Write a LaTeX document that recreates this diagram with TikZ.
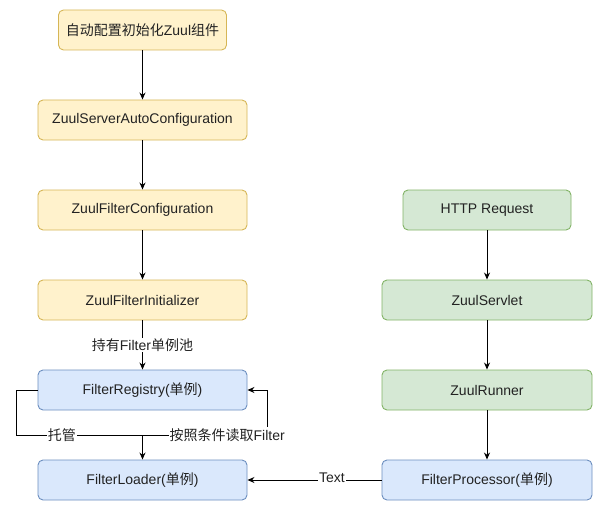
\documentclass[tikz,border=0pt]{standalone}
\usepackage{fontspec}
\setmainfont{Liberation Sans}
\newfontfamily\cjk{Noto Sans CJK SC}
\usetikzlibrary{arrows.meta}
\definecolor{ylfill}{HTML}{FFF2CC}
\definecolor{yldraw}{HTML}{D6B656}
\definecolor{grfill}{HTML}{D5E8D4}
\definecolor{grdraw}{HTML}{82B366}
\definecolor{blfill}{HTML}{DAE8FC}
\definecolor{bldraw}{HTML}{6C8EBF}
\definecolor{txt}{HTML}{222222}
\tikzset{
    box/.style={rectangle, rounded corners=5pt, line width=0.9pt, minimum height=40pt, text=txt, font=\fontsize{14}{16}\selectfont},
    ybox/.style={box, fill=ylfill, draw=yldraw},
    gbox/.style={box, fill=grfill, draw=grdraw},
    bbox/.style={box, fill=blfill, draw=bldraw},
    arr/.style={-{Stealth[length=7pt,width=6pt]}, line width=0.9pt},
    lbl/.style={fill=white, inner sep=1pt, text=txt, font=\fontsize{14}{16}\selectfont}
}
\begin{document}
\begin{tikzpicture}[x=1pt, y=-1pt]
    \useasboundingbox (0,0) rectangle (603,511);

    % Linke Spalte: Initialisierung
    \node[ybox, minimum width=168pt] (auto) at (142.5,30) {{\cjk 自动配置初始化}Zuul{\cjk 组件}};
    \node[ybox, minimum width=209pt] (autocfg) at (142.5,120) {ZuulServerAutoConfiguration};
    \node[ybox, minimum width=209pt] (filtercfg) at (142.5,210) {ZuulFilterConfiguration};
    \node[ybox, minimum width=209pt] (init) at (142.5,300) {ZuulFilterInitializer};
    \node[bbox, minimum width=209pt] (registry) at (142.5,390) {FilterRegistry({\cjk 单例})};
    \node[bbox, minimum width=209pt] (loader) at (142.5,480) {FilterLoader({\cjk 单例})};

    % Rechte Spalte: Request
    \node[gbox, minimum width=168pt] (request) at (487,210) {HTTP Request};
    \node[gbox, minimum width=210pt] (servlet) at (487,300) {ZuulServlet};
    \node[gbox, minimum width=210pt] (runner) at (487,390) {ZuulRunner};
    \node[bbox, minimum width=210pt] (processor) at (487,480) {FilterProcessor({\cjk 单例})};

    % Pfeile links
    \draw[arr] (auto) -- (autocfg);
    \draw[arr] (autocfg) -- (filtercfg);
    \draw[arr] (filtercfg) -- (init);
    \draw[arr] (init) -- node[lbl] {{\cjk 持有}Filter{\cjk 单例池}} (registry);

    % Schleife Registry / Loader
    \coordinate (split) at (142.5,435);
    \coordinate (turn) at (267,435);
    \draw[arr] (registry.west) -- ++(-21,0) |- node[lbl, pos=0.68] {\cjk 托管} (split) -- (loader.north);
    \draw[arr] (split) -- node[lbl, pos=0.68] {{\cjk 按照条件读取}Filter} (turn) |- (registry.east);

    % Pfeile rechts
    \draw[arr] (request) -- (servlet);
    \draw[arr] (servlet) -- (runner);
    \draw[arr] (runner) -- (processor);
    \draw[arr] (processor) -- node[lbl, pos=0.37, yshift=2pt] {Text} (loader);
\end{tikzpicture}
\end{document}
